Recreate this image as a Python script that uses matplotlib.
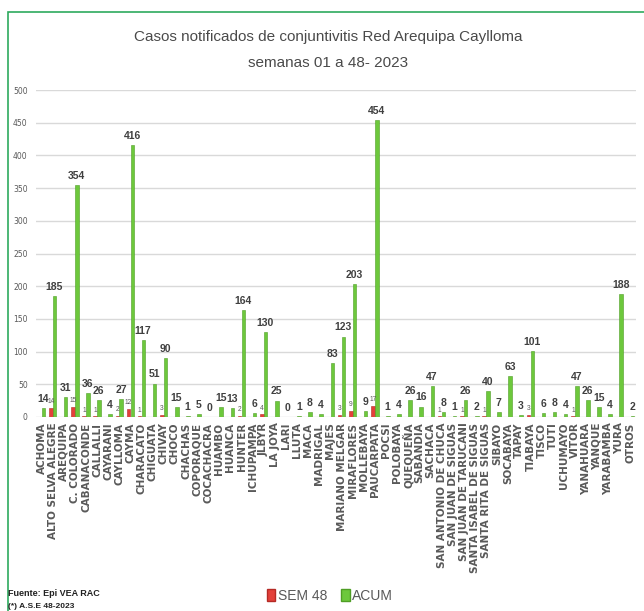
import matplotlib
matplotlib.use("Agg")
from matplotlib import pyplot as plt
from matplotlib.patches import Rectangle, Patch
import numpy as np

districts = [
    "ACHOMA", "ALTO SELVA ALEGRE", "AREQUIPA", "C. COLORADO", "CABANACONDE",
    "CALLALLI", "CAYARANI", "CAYLLOMA", "CAYMA", "CHARACATO", "CHIGUATA",
    "CHIVAY", "CHOCO", "CHACHAS", "COPORAQUE", "COCACHACRA", "HUAMBO",
    "HUANCA", "HUNTER", "ICHUPAMPA", "JLBYR", "LA JOYA", "LARI", "LLUTA",
    "MACA", "MADRIGAL", "MAJES", "MARIANO MELGAR", "MIRAFLORES", "MOLLEBAYA",
    "PAUCARPATA", "POCSI", "POLOBAYA", "QUEQUEÑA", "SABANDIA", "SACHACA",
    "SAN ANTONIO DE CHUCA", "SAN JUAN DE SIGUAS", "SAN JUAN DE TARUCANI",
    "SANTA ISABEL DE SIGUAS", "SANTA RITA DE SIGUAS", "SIBAYO", "SOCABAYA",
    "TAPAY", "TIABAYA", "TISCO", "TUTI", "UCHUMAYO", "VITOR", "YANAHUARA",
    "YANQUE", "YARABAMBA", "YURA", "OTROS",
]

# casos de la semana 48 (0 = sin dato)
sem48 = [
    0, 14, 0, 15, 1, 1, 0, 2, 12, 1, 0, 3, 0, 0, 0, 0, 0, 0, 2, 0, 4, 0, 0, 0,
    0, 0, 0, 3, 9, 0, 17, 0, 0, 0, 0, 0, 1, 0, 1, 0, 1, 0, 0, 0, 3, 0, 0, 0,
    1, 0, 0, 0, 0, 0,
]

# acumulado semanas 01-48
acum = [
    14, 185, 31, 354, 36, 26, 4, 27, 416, 117, 51, 90, 15, 1, 5, 0, 15, 13,
    164, 6, 130, 25, 0, 1, 8, 4, 83, 123, 203, 9, 454, 1, 4, 26, 16, 47, 8,
    1, 26, 2, 40, 7, 63, 3, 101, 6, 8, 4, 47, 26, 15, 4, 188, 2,
]

narrow = ["Liberation Sans", "DejaVu Sans"]
red = "#E3403A"
green = "#6DC83C"
gray = "#595959"

fig = plt.figure(figsize=(6.44, 6.11), dpi=100)
ax = fig.add_axes([36 / 644, 194 / 611, 600 / 644, 327 / 611])

x = np.arange(len(districts))
w = 0.32
ax.bar(x - 0.17, sem48, width=w, color=red, edgecolor="#B52A25", linewidth=0.4, zorder=3)
ax.bar(x + 0.17, acum, width=w, color=green, edgecolor="#4F9E25", linewidth=0.4, zorder=3)

for i in range(len(districts)):
    ax.annotate(str(acum[i]), (x[i] + 0.15, acum[i]), xytext=(0, 3),
                textcoords="offset points", ha="center", va="bottom",
                fontsize=7.5, fontweight="bold", color="#404040", family=narrow)
    if sem48[i]:
        ax.annotate(str(sem48[i]), (x[i] - 0.17, sem48[i]), xytext=(0, 2),
                    textcoords="offset points", ha="center", va="bottom",
                    fontsize=4.8, color=gray, family=narrow)

ax.set_xlim(-0.5, len(districts) - 0.5)
ax.set_ylim(0, 500)
ax.set_yticks(range(0, 501, 50))
ax.grid(axis="y", color="#D9D9D9", linewidth=1, zorder=0)
for s in ax.spines.values():
    s.set_visible(False)
ax.tick_params(axis="y", length=0, labelsize=5.5, labelcolor=gray, pad=6)
ax.tick_params(axis="x", length=0, pad=4)
ax.set_xticks(x)
ax.set_xticklabels(districts, rotation=90, fontsize=7.5, fontweight="bold",
                   color=gray, family="DejaVu Sans")

fig.text(0.51, 1 - 37 / 611, "Casos notificados de conjuntivitis Red Arequipa Caylloma",
         ha="center", va="center", fontsize=11, color="#4A4A4A", family=narrow)
fig.text(0.51, 1 - 63 / 611, "semanas 01 a 48- 2023",
         ha="center", va="center", fontsize=11, color="#4A4A4A", family=narrow)

# marco verde
fig.add_artist(Rectangle((7.5 / 644, -0.1), 1.2, 1.1 - 11.5 / 611,
                         transform=fig.transFigure, fill=False,
                         edgecolor="#2DAA5E", linewidth=1.2))

handles = [Patch(facecolor=red, edgecolor="#B52A25", label="SEM 48"),
           Patch(facecolor=green, edgecolor="#4F9E25", label="ACUM")]
fig.legend(handles=handles, loc="center", bbox_to_anchor=(330 / 644, 1 - 596 / 611),
           ncol=2, frameon=False, prop={"family": narrow, "size": 10},
           handlelength=0.6, handleheight=1.0, handletextpad=0.2,
           columnspacing=1.0, labelcolor=gray)

fig.text(8 / 644, 1 - 593 / 611, "Fuente: Epi VEA RAC", ha="left", va="center",
         fontsize=6.5, fontweight="bold", color="#222222", family=narrow)
fig.text(8 / 644, 1 - 606 / 611, "(*) A.S.E 48-2023", ha="left", va="center",
         fontsize=6, fontweight="bold", color="#222222", family=narrow)

fig.savefig("out.png", dpi=100)
